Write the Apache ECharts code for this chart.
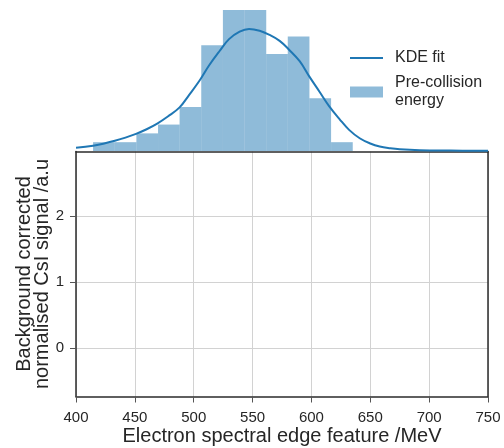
<!DOCTYPE html>
<html>
<head>
<meta charset="utf-8">
<script src="https://cdn.jsdelivr.net/npm/echarts@6/dist/echarts.min.js"></script>
<style>
  html, body { margin: 0; padding: 0; background: #ffffff; }
  #chart { width: 504px; height: 448px; }
</style>
</head>
<body>
<div id="chart"></div>
<script>
// Histogram of pre-collision electron energy (counts per bin)
const binEdges = [414.5, 432.9, 451.3, 469.7, 488.0, 506.4, 524.8, 543.2, 561.6, 579.9, 598.3, 616.7, 635.1];
const binCounts = [1, 1, 2, 3, 5, 12, 16, 16, 11, 13, 6, 1];

// Kernel density estimate, scaled to the histogram counts
const kdeX = [400, 414.5, 424, 433, 442, 451, 460, 469, 478, 488, 496, 505, 513, 522, 530, 539, 547, 556, 564, 573, 581, 590, 598, 607, 615, 624, 632, 641, 650, 658, 667, 675, 692, 718, 750];
const kdeY = [0.37, 0.60, 0.86, 1.16, 1.52, 1.95, 2.47, 3.11, 3.91, 4.95, 6.35, 8.0, 9.7, 11.35, 12.7, 13.55, 13.85, 13.65, 13.2, 12.5, 11.5, 10.2, 8.5, 6.7, 5.1, 3.6, 2.4, 1.45, 0.85, 0.5, 0.3, 0.19, 0.09, 0.05, 0.03];

// Main panel axis ticks
const xTicks = [400, 450, 500, 550, 600, 650, 700, 750];
const yTicks = [0, 1, 2];

const histData = binCounts.map((c, i) => [binEdges[i], binEdges[i + 1], c]);
const kdeData = kdeX.map((x, i) => [x, kdeY[i]]);

const textColor = '#262626';
const frameColor = '#2b2b2b';
const gridColor = '#d2d2d2';
const fontFamily = '"Liberation Sans", Arial, Helvetica, sans-serif';

const chart = echarts.init(document.getElementById('chart'), null, { renderer: 'canvas' });

chart.setOption({
  animation: false,
  backgroundColor: '#ffffff',
  textStyle: { fontFamily: fontFamily, color: textColor },
  grid: [
    { left: 76, right: 16, top: 151.5, bottom: 51.5, show: false, containLabel: false, outerBoundsMode: 'none' },
    { left: 76, right: 16, top: 0, height: 151, show: false, containLabel: false, outerBoundsMode: 'none' }
  ],
  legend: {
    orient: 'vertical',
    left: 345,
    top: 44,
    itemWidth: 33,
    itemHeight: 11,
    itemGap: 7,
    textStyle: { fontSize: 16, color: textColor, fontFamily: fontFamily, lineHeight: 18, padding: [0, 0, 0, 7] },
    data: [
      { name: 'KDE fit', icon: 'path://M0,0H33V2H0Z' },
      { name: 'Pre-collision\nenergy', icon: 'rect' }
    ]
  },
  xAxis: [
    {
      gridIndex: 0,
      type: 'value',
      min: xTicks[0],
      max: xTicks[xTicks.length - 1],
      interval: 50,
      name: 'Electron spectral edge feature /MeV',
      nameLocation: 'middle',
      nameGap: 30,
      nameMoveOverlap: false,
      nameTextStyle: { fontSize: 20, color: textColor, fontFamily: fontFamily },
      axisLine: { show: true, onZero: false, lineStyle: { color: frameColor, width: 1.5 } },
      axisTick: { show: true, length: 6, lineStyle: { color: '#555555', width: 1 } },
      axisLabel: { fontSize: 15, color: textColor, margin: 14, fontFamily: fontFamily },
      splitLine: { show: true, lineStyle: { color: gridColor, width: 1 } }
    },
    {
      gridIndex: 0,
      type: 'value',
      position: 'top',
      min: xTicks[0],
      max: xTicks[xTicks.length - 1],
      axisLine: { show: true, onZero: false, lineStyle: { color: frameColor, width: 1.5 } },
      axisTick: { show: false },
      axisLabel: { show: false },
      splitLine: { show: false }
    },
    {
      gridIndex: 1,
      type: 'value',
      min: xTicks[0],
      max: xTicks[xTicks.length - 1],
      show: false
    }
  ],
  yAxis: [
    {
      gridIndex: 0,
      type: 'value',
      min: -0.73,
      max: 2.98,
      name: 'Background corrected\nnormalised CsI signal /a.u',
      nameLocation: 'middle',
      nameGap: 25,
      nameMoveOverlap: false,
      nameTextStyle: { fontSize: 20, color: textColor, fontFamily: fontFamily, lineHeight: 18 },
      axisLine: { show: true, onZero: false, lineStyle: { color: frameColor, width: 1.5 } },
      axisTick: { show: true, length: 6, customValues: yTicks, lineStyle: { color: '#555555', width: 1 } },
      axisLabel: { fontSize: 15, color: textColor, margin: 12, fontFamily: fontFamily, customValues: yTicks },
      splitLine: { show: true, lineStyle: { color: gridColor, width: 1 } }
    },
    {
      gridIndex: 0,
      type: 'value',
      position: 'right',
      min: -0.73,
      max: 2.98,
      axisLine: { show: true, onZero: false, lineStyle: { color: frameColor, width: 1.5 } },
      axisTick: { show: false },
      axisLabel: { show: false },
      splitLine: { show: false }
    },
    {
      gridIndex: 1,
      type: 'value',
      min: 0,
      max: 17.14,
      show: false
    }
  ],
  series: [
    {
      name: 'main',
      type: 'scatter',
      xAxisIndex: 0,
      yAxisIndex: 0,
      data: [],
      silent: true
    },
    {
      name: 'Pre-collision\nenergy',
      type: 'custom',
      xAxisIndex: 2,
      yAxisIndex: 2,
      itemStyle: { color: 'rgba(31,119,180,0.5)' },
      encode: { x: [0, 1], y: 2 },
      data: histData,
      z: 2,
      renderItem: function (params, api) {
        const p0 = api.coord([api.value(0), api.value(2)]);
        const p1 = api.coord([api.value(1), 0]);
        return {
          type: 'rect',
          shape: { x: p0[0], y: p0[1], width: p1[0] - p0[0], height: p1[1] - p0[1] },
          style: { fill: 'rgba(31,119,180,0.5)' }
        };
      }
    },
    {
      name: 'KDE fit',
      type: 'line',
      xAxisIndex: 2,
      yAxisIndex: 2,
      data: kdeData,
      smooth: 0.4,
      symbol: 'none',
      clip: false,
      z: 3,
      lineStyle: { color: '#1f77b4', width: 2 },
      itemStyle: { color: '#1f77b4' }
    }
  ]
});
</script>
</body>
</html>
